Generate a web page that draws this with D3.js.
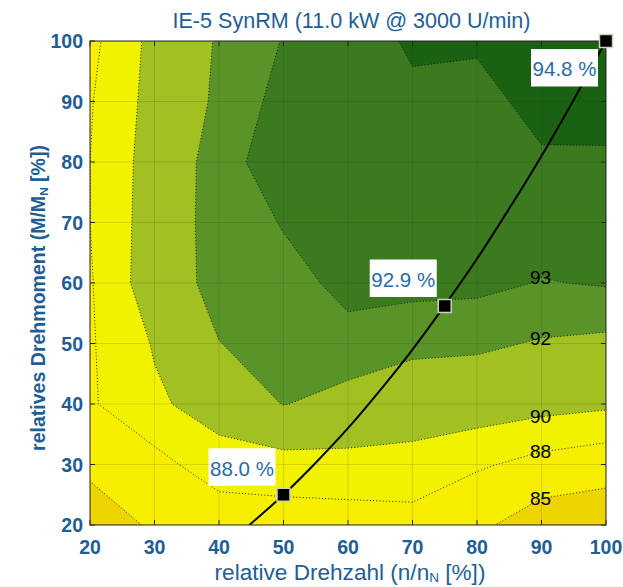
<!DOCTYPE html>
<html><head><meta charset="utf-8">
<script src="https://cdn.jsdelivr.net/npm/d3@7"></script>
<style>body{margin:0;background:#fff;} svg{display:block;font-family:"Liberation Sans",Arial,sans-serif;}</style>
</head><body><svg id="c" width="623" height="587"></svg>
<script>
// ---- data ----
const speeds  = [20, 30, 40, 50, 60, 70, 80, 90, 100];   // n/nN [%]
const torques = [20, 30, 40, 50, 60, 70, 80, 90, 100];   // M/MN [%]
// efficiency [%], one row per torque (20 .. 100), columns = speeds
const eff20  = [83.50, 85.375, 86.58, 86.81, 86.95, 87.35, 85.70, 83.21, 82.38];
const eff30  = [85.58, 87.29, 89.16, 89.35, 89.45, 89.08, 88.31, 87.28, 86.67];
const eff40  = [87.75, 89.67, 90.89, 92.05, 91.49, 91.50, 91.13, 90.72, 90.37];
const eff50  = [87.79, 90.17, 91.98, 92.38, 92.79, 92.18, 92.20, 91.906, 91.75];
const eff60  = [87.83, 91.28, 92.38, 92.75, 93.19, 93.37, 93.27, 92.95, 93.08];
const eff70  = [87.99, 91.09, 92.53, 93.05, 93.40, 93.60, 93.60, 93.50, 93.50];
const eff80  = [87.99, 90.985, 92.55, 93.62, 93.55, 93.75, 93.80, 93.96, 93.85];
const eff90  = [87.855, 90.755, 92.255, 93.35, 93.60, 93.85, 93.90, 94.10, 94.40];
const eff100 = [87.46, 90.63, 92.15, 93.05, 93.60, 94.11, 94.04, 94.50, 94.80];
const effRows = [eff20, eff30, eff40, eff50, eff60, eff70, eff80, eff90, eff100];

const levels = [85, 88, 90, 92, 93, 94];
const labelLevels = [85, 88, 90, 92, 93];
const labelSpeed = 90;
const xTicks = [20, 30, 40, 50, 60, 70, 80, 90, 100];
const yTicks = [20, 30, 40, 50, 60, 70, 80, 90, 100];

// load curve
const loadSpeed  = [44.7, 50, 55, 60, 65, 70, 75, 80, 85, 90, 95, 100];
const loadTorque = [20, 25, 30.3, 36, 42.3, 49, 56.3, 64, 72.3, 81, 90.3, 100];
// marked operating points
const opSpeed  = [50, 75, 100];
const opTorque = [25, 56.2, 100];
const opLabel  = ["88.0 %", "92.9 %", "94.8 %"];

// ---- styles ----
const bandColors = ["#eed400", "#f7ee00", "#f1f200", "#a1c021", "#5a9429", "#3b7a1e", "#1b6112"];
const blue = "#1f5e94";
const annBlue = "#2a6ba6";

const svg = d3.select("#c");
const L = 90, R = 606, T = 41, B = 525;
const x = d3.scaleLinear([20, 100], [L, R]);
const y = d3.scaleLinear([20, 100], [B, T]);

svg.append("defs").append("clipPath").attr("id", "plot")
  .append("rect").attr("x", L).attr("y", T).attr("width", R - L).attr("height", B - T);

const g = svg.append("g").attr("clip-path", "url(#plot)");
g.append("rect").attr("x", L).attr("y", T).attr("width", R - L).attr("height", B - T)
  .attr("fill", bandColors[0]);

const nx = speeds.length, ny = torques.length;
const values = effRows.flat();
const contours = d3.contours().size([nx, ny]).thresholds(levels)(values);
const dx = speeds[1] - speeds[0], dy = torques[1] - torques[0];
const proj = d3.geoTransform({
  point(px, py) {
    this.stream.point(x(speeds[0] + (px - 0.5) * dx), y(torques[0] + (py - 0.5) * dy));
  }
});
const path = d3.geoPath(proj);

g.selectAll("path.fill").data(contours).join("path").attr("class", "fill")
  .attr("d", path).attr("fill", (d, i) => bandColors[i + 1]).attr("stroke", "none");
g.selectAll("path.line").data(contours).join("path").attr("class", "line")
  .attr("d", path).attr("fill", "none").attr("stroke", "#111")
  .attr("stroke-width", 1).attr("stroke-dasharray", "1 2.2").attr("opacity", 0.9);

// grid
g.selectAll("line.gx").data(xTicks).join("line").attr("class", "gx")
  .attr("x1", d => x(d)).attr("x2", d => x(d)).attr("y1", T).attr("y2", B)
  .attr("stroke", "rgba(38,38,38,0.15)").attr("stroke-width", 1);
g.selectAll("line.gy").data(yTicks).join("line").attr("class", "gy")
  .attr("y1", d => y(d)).attr("y2", d => y(d)).attr("x1", L).attr("x2", R)
  .attr("stroke", "rgba(38,38,38,0.15)").attr("stroke-width", 1);

// contour labels at speed column
const col = speeds.indexOf(labelSpeed);
function levelTorque(level) {
  for (let j = 0; j < ny - 1; j++) {
    const a = effRows[j][col], b = effRows[j + 1][col];
    if ((a - level) * (b - level) <= 0 && a !== b) return torques[j] + (level - a) / (b - a) * dy;
  }
  return null;
}
g.selectAll("text.cl").data(labelLevels).join("text").attr("class", "cl")
  .attr("x", x(labelSpeed) - 1).attr("y", d => y(levelTorque(d)))
  .attr("text-anchor", "middle").attr("dominant-baseline", "central")
  .attr("font-size", 19).attr("fill", "#000").text(d => d);

// load curve
const lineGen = d3.line().x(d => x(d[0])).y(d => y(d[1])).curve(d3.curveCatmullRom);
g.append("path").datum(loadSpeed.map((s, i) => [s, loadTorque[i]]))
  .attr("d", lineGen).attr("fill", "none").attr("stroke", "#000").attr("stroke-width", 2);

// axes box + ticks
const ax = svg.append("g");
ax.append("rect").attr("x", L).attr("y", T).attr("width", R - L).attr("height", B - T)
  .attr("fill", "none").attr("stroke", "#262626").attr("stroke-width", 1);
const tl = 5;
xTicks.forEach(t => {
  ax.append("line").attr("x1", x(t)).attr("x2", x(t)).attr("y1", B).attr("y2", B - tl).attr("stroke", "#262626");
  ax.append("line").attr("x1", x(t)).attr("x2", x(t)).attr("y1", T).attr("y2", T + tl).attr("stroke", "#262626");
});
yTicks.forEach(t => {
  ax.append("line").attr("y1", y(t)).attr("y2", y(t)).attr("x1", L).attr("x2", L + tl).attr("stroke", "#262626");
  ax.append("line").attr("y1", y(t)).attr("y2", y(t)).attr("x1", R).attr("x2", R - tl).attr("stroke", "#262626");
});
ax.selectAll("text.xt").data(xTicks).join("text").attr("class", "xt")
  .attr("x", d => x(d)).attr("y", 547).attr("text-anchor", "middle").attr("dominant-baseline", "central")
  .attr("font-size", 19.5).attr("font-weight", "bold").attr("fill", blue).text(d => d);
ax.selectAll("text.yt").data(yTicks).join("text").attr("class", "yt")
  .attr("x", L - 7).attr("y", d => y(d)).attr("text-anchor", "end").attr("dominant-baseline", "central")
  .attr("font-size", 19.5).attr("font-weight", "bold").attr("fill", blue).text(d => d);

// markers
svg.selectAll("rect.mk").data(opSpeed).join("rect").attr("class", "mk")
  .attr("x", (d, i) => x(d) - 6.5).attr("y", (d, i) => y(opTorque[i]) - 6.5)
  .attr("width", 13).attr("height", 13).attr("fill", "#000")
  .attr("stroke", "#cfcfc0").attr("stroke-width", 1.5);

// annotation boxes
const bw = 67, bh = 37.5;
opSpeed.forEach((s, i) => {
  const mx = x(s), my = y(opTorque[i]);
  const below = opTorque[i] >= 95;
  const bx = mx - 8 - bw, by = below ? my + 8 : my - 9 - bh;
  svg.append("rect").attr("x", bx).attr("y", by).attr("width", bw).attr("height", bh).attr("fill", "#fff");
  svg.append("text").attr("x", bx + bw / 2).attr("y", by + bh / 2 + 1).attr("text-anchor", "middle")
    .attr("dominant-baseline", "central").attr("font-size", 20.5).attr("fill", annBlue).text(opLabel[i]);
});

function fit(sel, target) {
  const w = sel.node().getComputedTextLength();
  const fs = parseFloat(sel.attr("font-size"));
  sel.attr("font-size", (fs * target / w).toFixed(2));
}

// title
const title = svg.append("text").attr("x", 351.5).attr("y", 20).attr("text-anchor", "middle")
  .attr("dominant-baseline", "central").attr("font-size", 20).attr("fill", blue)
  .text("IE-5 SynRM (11.0 kW @ 3000 U/min)");
fit(title, 358);

// x label
const xl = svg.append("text").attr("x", 350).attr("y", 572).attr("text-anchor", "middle")
  .attr("dominant-baseline", "central").attr("font-size", 19).attr("fill", blue);
xl.append("tspan").text("relative Drehzahl (n/n");
xl.append("tspan").attr("font-size", "0.6em").attr("dy", 5).text("N");
xl.append("tspan").attr("dy", -5).text(" [%])");
fit(xl, 271);

// y label
const yl = svg.append("text").attr("transform", "translate(38,298) rotate(-90)").attr("text-anchor", "middle")
  .attr("dominant-baseline", "central").attr("font-size", 18).attr("font-weight", "bold").attr("fill", blue);
yl.append("tspan").text("relatives Drehmoment (M/M");
yl.append("tspan").attr("font-size", "0.6em").attr("dy", 5).text("N");
yl.append("tspan").attr("dy", -5).text(" [%])");
fit(yl, 306);
</script></body></html>
